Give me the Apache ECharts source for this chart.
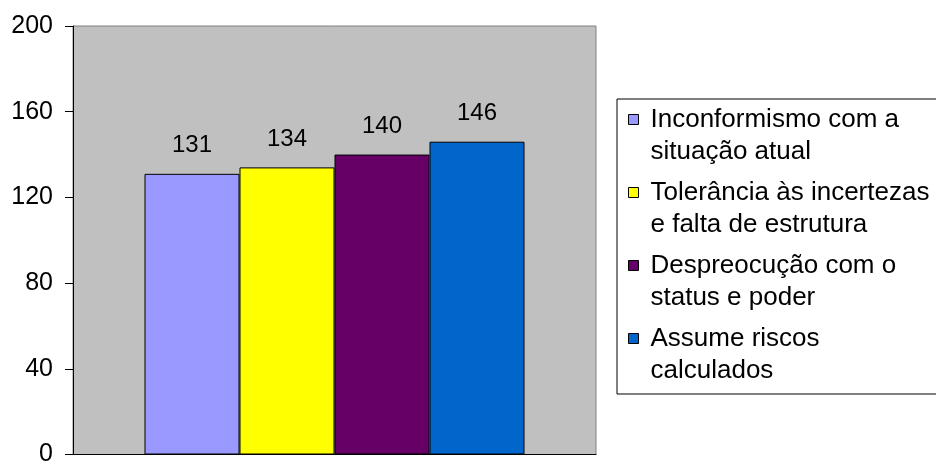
<!DOCTYPE html>
<html>
<head>
<meta charset="utf-8">
<script src="https://cdn.jsdelivr.net/npm/echarts@6/dist/echarts.min.js"></script>
<style>
  html, body { margin: 0; padding: 0; background: #ffffff; }
  #chart { width: 936px; height: 467px; }
</style>
</head>
<body>
<div id="chart"></div>
<script>
// Scores for the four entrepreneurial traits
var categories = [''];
var seriesNames = [
  'Inconformismo com a\nsituação atual',
  'Tolerância às incertezas\ne falta de estrutura',
  'Despreocução com o\nstatus e poder',
  'Assume riscos\ncalculados'
];
var seriesValues = [131, 134, 140, 146];
var seriesColors = ['#9999FF', '#FFFF00', '#660066', '#0066CC'];
var yTicks = { min: 0, max: 200, interval: 40 };

var FONT = 'Arial, "Liberation Sans", sans-serif';

// Legend marker: 10x10 square near the top of a tall, mostly empty box,
// so it sits beside the first line of each two-line label.
var legendIcon = 'path://M0,0M0,11h10v10h-10zM17,64';

var series = seriesNames.map(function (name, i) {
  return {
    name: name,
    type: 'bar',
    data: [seriesValues[i]],
    barWidth: 95,
    barGap: '0%',
    itemStyle: { color: seriesColors[i], borderColor: '#000000', borderWidth: 1 },
    label: {
      show: true,
      position: 'top',
      distance: 16,
      fontFamily: FONT,
      fontSize: 24,
      color: '#000000'
    }
  };
});

var chart = echarts.init(document.getElementById('chart'), null, { renderer: 'canvas' });
chart.setOption({
  animation: false,
  backgroundColor: '#ffffff',
  grid: {
    left: 73, right: 340, top: 26, bottom: 7,
    show: true,
    backgroundColor: '#C0C0C0',
    borderColor: '#808080',
    borderWidth: 1
  },
  xAxis: {
    type: 'category',
    data: categories,
    axisLine: { show: true, lineStyle: { color: '#000000', width: 1 } },
    axisTick: { show: false },
    axisLabel: { show: false },
    splitLine: { show: false }
  },
  yAxis: {
    type: 'value',
    min: yTicks.min,
    max: yTicks.max,
    interval: yTicks.interval,
    axisLine: { show: true, lineStyle: { color: '#000000', width: 1 } },
    axisTick: { show: true, inside: false, length: 8, lineStyle: { color: '#000000' } },
    axisLabel: { margin: 20, fontFamily: FONT, fontSize: 25, color: '#000000' },
    splitLine: { show: false }
  },
  legend: {
    orient: 'vertical',
    left: 617,
    top: 99,
    padding: [4, 60, 7, 11],
    itemGap: 8,
    itemWidth: 17,
    itemHeight: 64,
    icon: legendIcon,
    itemStyle: { borderColor: '#000000', borderWidth: 1 },
    backgroundColor: '#ffffff',
    borderColor: '#000000',
    borderWidth: 1,
    borderRadius: 0,
    textStyle: { fontFamily: FONT, fontSize: 26, color: '#000000', lineHeight: 32 },
    data: seriesNames
  },
  series: series
});
</script>
</body>
</html>
